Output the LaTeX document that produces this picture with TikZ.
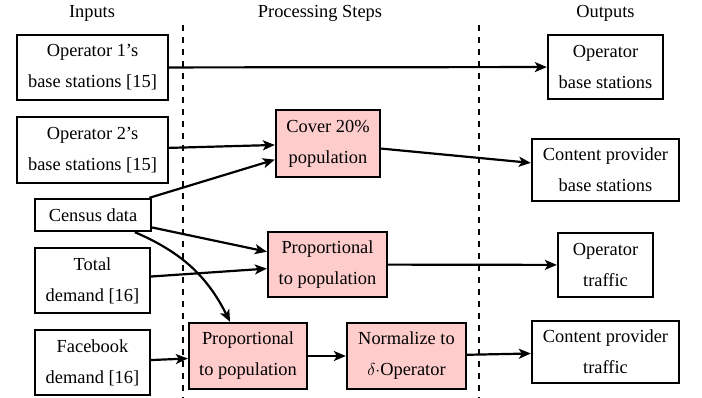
\documentclass[tikz,border=0pt]{standalone}
\usepackage{fontspec}
\setmainfont{Liberation Serif}
\newfontfamily\tnr{Liberation Serif}
\usetikzlibrary{arrows.meta}
\begin{document}
\begin{tikzpicture}[x=1pt,y=-1pt,
  every node/.style={font=\fontsize{18.4pt}{31pt}\tnr},
  box/.style={draw=black, line width=2.3pt, align=center, inner sep=0pt},
  procbox/.style={box, fill=red!20},
  hdr/.style={inner sep=0pt},
  conn/.style={line width=2.2pt, -{Stealth[length=12pt,width=10pt,inset=3pt]}},
  sep/.style={line width=2pt, dash pattern=on 6pt off 6pt}]
\useasboundingbox (0,0) rectangle (702,398);
% headers
\node[hdr] (hin) at (92,13) {Inputs};
\node[hdr] (hproc) at (320,13) {Processing Steps};
\node[hdr] (hout) at (605.5,13) {Outputs};
% separators
\coordinate (s1t) at (183,25); \coordinate (s1b) at (183,398);
\coordinate (s2t) at (479,25); \coordinate (s2b) at (479,398);
\draw[sep] (s1t) -- (s1b);
\draw[sep] (s2t) -- (s2b);
% inputs
\node[box, minimum width=151pt, minimum height=65pt] (op1) at (92.5,67.5) {Operator 1’s\\base stations [15]};
\node[box, minimum width=151pt, minimum height=66pt] (op2) at (92.5,150) {Operator 2’s\\base stations [15]};
\node[box, minimum width=116pt, minimum height=32pt] (census) at (93,215) {Census data};
\node[box, minimum width=115pt, minimum height=65pt] (total) at (92.5,280.5) {Total\\demand [16]};
\node[box, minimum width=115pt, minimum height=65pt] (fb) at (92.5,362.5) {Facebook\\demand [16]};
% processing
\node[procbox, minimum width=104pt, minimum height=67pt] (cover) at (328,143.5) {Cover 20\%\\population};
\node[procbox, minimum width=119pt, minimum height=65pt] (prop1) at (327.5,264.5) {Proportional\\to population};
\node[procbox, minimum width=118pt, minimum height=66pt] (prop2) at (248,356) {Proportional\\to population};
\node[procbox, minimum width=119pt, minimum height=66pt] (norm) at (406.5,356) {Normalize to\\$\delta{\cdot}$Operator};
% outputs
\node[box, minimum width=115pt, minimum height=64pt] (opbs) at (605.5,67) {Operator\\base stations};
\node[box, minimum width=147pt, minimum height=62pt] (cpbs) at (605.5,170) {Content provider\\base stations};
\node[box, minimum width=95pt, minimum height=64pt] (optr) at (605.5,265) {Operator\\traffic};
\node[box, minimum width=147pt, minimum height=62pt] (cptr) at (605.5,352) {Content provider\\traffic};
% connectors
\draw[conn] (op1) -- (opbs);
\draw[conn] (op2) -- (cover);
\draw[conn] (census) -- (cover);
\draw[conn] (census) -- (prop1);
\draw[conn] (total) -- (prop1);
\draw[conn] (census) to[bend left=20] (prop2);
\draw[conn] (fb) -- (prop2);
\draw[conn] (prop2) -- (norm);
\draw[conn] (norm) -- (cptr);
\draw[conn] (cover) -- (cpbs);
\draw[conn] (prop1) -- (optr);
\end{tikzpicture}
\end{document}
